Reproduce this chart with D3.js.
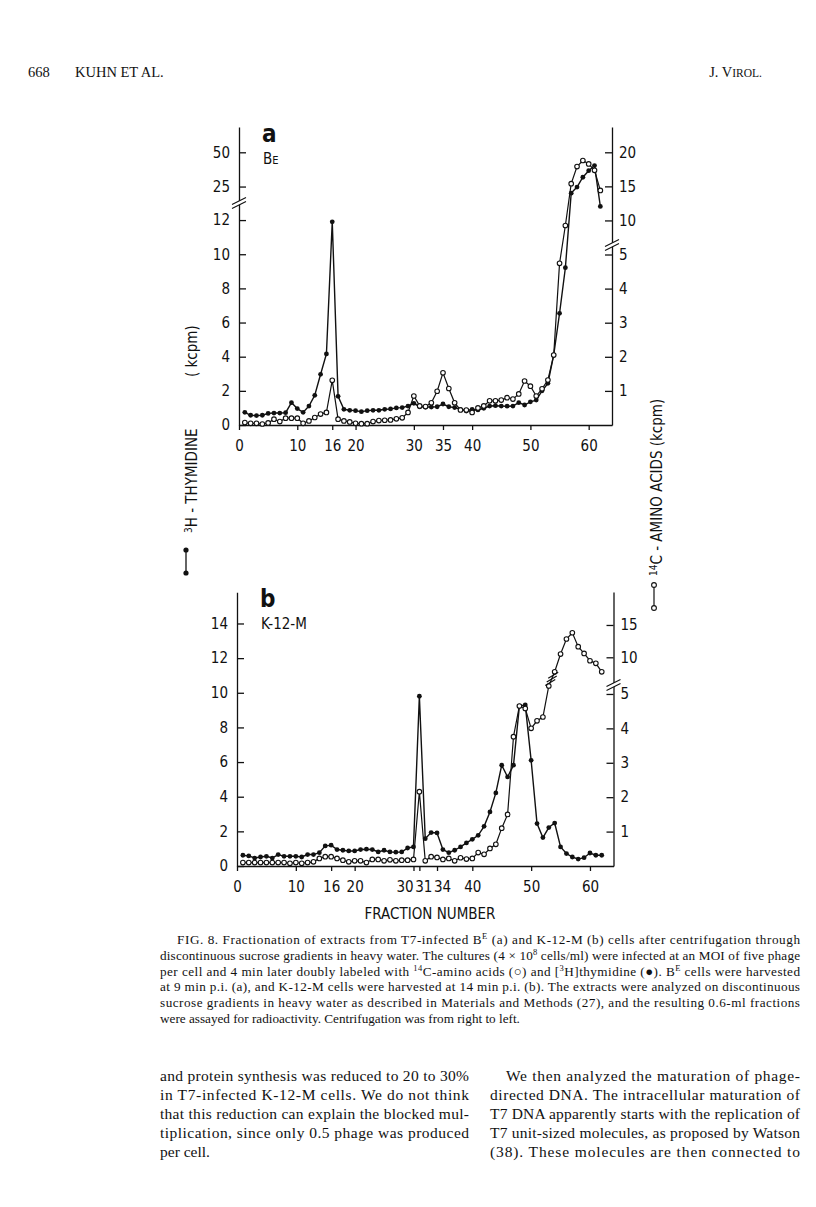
<!DOCTYPE html>
<html><head><meta charset="utf-8">
<script src="https://cdn.jsdelivr.net/npm/d3@7"></script>
<style>
body{margin:0;background:#fff}
svg{display:block}
.ax{font-family:"DejaVu Sans Condensed","DejaVu Sans",sans-serif;font-stretch:condensed;font-size:15px;color:#111}
.ax path,.ax line{stroke-width:1.3}
.lab{font-family:"DejaVu Sans Condensed","DejaVu Sans",sans-serif;font-stretch:condensed;fill:#111}
.serif{font-family:"Liberation Serif","Times New Roman",serif;fill:#111}
</style></head><body>
<svg id="c" width="816" height="1207" viewBox="0 0 816 1207"></svg>
<script>
// ---------- data ----------
const fractions = [1,2,3,4,5,6,7,8,9,10,11,12,13,14,15,16,17,18,19,20,21,22,23,24,25,26,27,28,29,30,31,32,33,34,35,36,37,38,39,40,41,42,43,44,45,46,47,48,49,50,51,52,53,54,55,56,57,58,59,60,61,62];
// panel a (B^E): 3H-thymidine (filled, left axis, kcpm), 14C-amino acids (open, right axis, kcpm)
const thymidineA = [0.74,0.57,0.55,0.57,0.68,0.70,0.70,0.72,1.31,0.96, 0.74,1.11,1.74,2.97,4.16,11.9,1.68,0.92,0.86,0.84, 0.78,0.84,0.86,0.86,0.92,0.94,1.00,1.02,1.11,1.27, 1.07,1.05,1.05,1.07,1.23,1.07,1.02,0.92,0.82,0.92, 0.88,0.98,1.11,1.13,1.11,1.10,1.11,1.31,1.17,1.36, 1.46,2.00,2.44,4.10,6.54,9.21,20.2,24.6,31.8,36.6, 40.3,12.8];
const aminoA = [0.07,0.05,0.05,0.03,0.06,0.17,0.10,0.20,0.20,0.20, 0.05,0.12,0.22,0.32,0.37,1.31,0.17,0.12,0.09,0.05, 0.04,0.04,0.10,0.13,0.14,0.15,0.18,0.21,0.37,0.85, 0.56,0.54,0.65,0.99,1.53,1.07,0.65,0.44,0.44,0.37, 0.50,0.56,0.71,0.71,0.73,0.80,0.76,0.91,1.29,1.14, 0.85,1.06,1.32,2.05,4.74,9.26,15.4,17.9,18.8,18.3, 17.35,14.4];
// panel b (K-12-M)
const thymidineB = [0.62,0.58,0.46,0.52,0.56,0.46,0.66,0.56,0.56,0.56, 0.52,0.66,0.66,0.77,1.16,1.20,0.95,0.91,0.87,0.87, 0.95,0.97,0.95,0.81,0.91,0.81,0.80,0.81,1.04,1.10, 9.80,1.58,1.93,1.91,0.95,0.77,0.91,1.10,1.33,1.54, 1.77,2.29,3.12,4.22,5.82,5.14,5.82,9.23,9.30,6.10, 2.45,1.64,2.22,2.48,1.10,0.72,0.52,0.40,0.48,0.75, 0.62,0.62];
const aminoB = [0.10,0.10,0.10,0.10,0.10,0.10,0.10,0.10,0.08,0.10, 0.08,0.10,0.12,0.22,0.27,0.27,0.22,0.17,0.12,0.15, 0.15,0.10,0.19,0.19,0.15,0.18,0.15,0.17,0.17,0.19, 2.16,0.15,0.27,0.25,0.19,0.22,0.15,0.24,0.20,0.22, 0.39,0.34,0.51,0.63,1.10,1.50,3.76,4.65,4.58,4.00, 4.22,4.33,5.58,7.77,10.5,12.83,13.8,11.64,10.6,9.47, 9.07,7.77];
// tick labels
const xTicksA = [0,10,16,20,30,35,40,50,60];
const leftTicksA = [0,2,4,6,8,10,12,25,50];
const rightTicksA = [1,2,3,4,5,10,15,20];
const xTicksB = [0,10,16,20,30,31,34,40,50,60];
const leftTicksB = [0,2,4,6,8,10,12,14];
const rightTicksB = [1,2,3,4,5,10,15];

const svg = d3.select('#c');

function breakMark(g, cx, cy){
  g.append('polygon').attr('points',`${cx-6},${cy+1} ${cx+6},${cy-5} ${cx+6},${cy-1} ${cx-6},${cy+5}`).attr('fill','#fff');
  g.append('line').attr('x1',cx-7).attr('y1',cy+1.5).attr('x2',cx+7).attr('y2',cy-5.5).attr('stroke','#111').attr('stroke-width',1.2);
  g.append('line').attr('x1',cx-7).attr('y1',cy+5.5).attr('x2',cx+7).attr('y2',cy-1.5).attr('stroke','#111').attr('stroke-width',1.2);
}

function panel(cfg){
  const g = svg.append('g');
  const x = d3.scaleLinear().domain([0,64]).range(cfg.xr);
  const yL = d3.scaleLinear().domain(cfg.yLd).range(cfg.yLr);
  const yR = d3.scaleLinear().domain(cfg.yRd).range(cfg.yRr);
  const base = cfg.yLr[0];
  g.append('g').attr('class','ax').attr('transform',`translate(${cfg.xr[0]},0)`)
    .call(d3.axisLeft(yL).tickValues(cfg.tL).tickSize(-7).tickSizeOuter(0).tickPadding(9));
  g.append('g').attr('class','ax').attr('transform',`translate(${cfg.xr[1]},0)`)
    .call(d3.axisRight(yR).tickValues(cfg.tR).tickSize(-7).tickSizeOuter(0).tickPadding(7));
  const xa = g.append('g').attr('class','ax').attr('transform',`translate(0,${base})`)
    .call(d3.axisBottom(x).tickValues(cfg.tX).tickSize(5).tickSizeOuter(0).tickPadding(10));
  if (cfg.labelShift) xa.selectAll('.tick text').attr('dx', d => cfg.labelShift[d] || 0);
  (cfg.breaks||[]).forEach(b => breakMark(g, b[0], b[1]));

  const open = fractions.map((f,i)=>({f, v: cfg.amino[i]}));
  const fill = fractions.map((f,i)=>({f, v: cfg.thym[i]}));
  g.append('path').datum(open).attr('fill','none').attr('stroke','#111').attr('stroke-width',1.2)
    .attr('d', d3.line().x(d=>x(d.f)).y(d=>yR(d.v)));
  g.append('path').datum(fill).attr('fill','none').attr('stroke','#111').attr('stroke-width',1.4)
    .attr('d', d3.line().x(d=>x(d.f)).y(d=>yL(d.v)));
  g.append('g').selectAll('circle').data(fill).join('circle')
    .attr('cx',d=>x(d.f)).attr('cy',d=>yL(d.v)).attr('r',2.4).attr('fill','#111');
  g.append('g').selectAll('circle').data(open).join('circle')
    .attr('cx',d=>x(d.f)).attr('cy',d=>yR(d.v)).attr('r',2.3).attr('fill','#fff').attr('stroke','#111').attr('stroke-width',1.1);
  if (cfg.curveBreak){
    const [f0,f1] = cfg.curveBreak;
    const i0 = fractions.indexOf(f0), i1 = fractions.indexOf(f1);
    const x0 = x(f0), y0 = yR(cfg.amino[i0]), x1 = x(f1), y1 = yR(cfg.amino[i1]);
    [0.25,0.5,0.75].forEach(t=>{
      const cx = x0+(x1-x0)*t, cy = y0+(y1-y0)*t;
      g.append('line').attr('x1',cx-5).attr('y1',cy+3).attr('x2',cx+5).attr('y2',cy-3)
        .attr('stroke','#111').attr('stroke-width',1.2);
    });
  }
  // panel letter + strain
  g.append('text').attr('class','lab').attr('x',cfg.xr[0]+23).attr('y',cfg.letterY)
    .attr('font-family','Liberation Sans, Arial, sans-serif').attr('font-weight','bold').attr('font-size',24).text(cfg.letter);
  const st = g.append('text').attr('class','lab').attr('x',cfg.xr[0]+24).attr('y',cfg.letterY+22).attr('font-size',15);
  cfg.strain.forEach(s => st.append('tspan').attr('font-size',s[1]).text(s[0]));
  return {x,yL,yR};
}

panel({xr:[239,612], yLd:[0,13,50,68.5], yLr:[425,203,152.3,127], yRd:[0,5,20,23.7], yRr:[425,254.5,152.3,127],
  tL:leftTicksA, tR:rightTicksA, tX:xTicksA, thym:thymidineA, amino:aminoA,
  breaks:[[239,203],[612,245]], letter:'a', letterY:142, strain:[['B',15],['E',11]]});

panel({xr:[237,613.5], yLd:[0,15.8], yLr:[866,592.3], yRd:[0,5.15,10,20.1], yRr:[866,688.8,657.3,592],
  tL:leftTicksB, tR:rightTicksB, tX:xTicksB, thym:thymidineB, amino:aminoB,
  breaks:[[613.5,685]], labelShift:{30:-9,31:4,34:5}, curveBreak:[53,54],
  letter:'b', letterY:607, strain:[['K-12-M',15]]});

// ---------- axis titles ----------
{
  const g = svg.append('g').attr('transform','translate(186,575) rotate(-90)');
  g.append('line').attr('x1',2).attr('y1',0).attr('x2',25).attr('y2',0).attr('stroke','#111').attr('stroke-width',1.3);
  g.append('circle').attr('cx',2).attr('cy',0).attr('r',2.6).attr('fill','#111');
  g.append('circle').attr('cx',25).attr('cy',0).attr('r',2.6).attr('fill','#111');
  const t = g.append('text').attr('class','lab').attr('y',11).attr('font-size',15);
  t.append('tspan').attr('x',42).attr('font-size',10).attr('baseline-shift','super').text('3');
  t.append('tspan').text('H - THYMIDINE');
  t.append('tspan').attr('x',198).text('( kcpm)');
}
{
  const g = svg.append('g').attr('transform','translate(654,612) rotate(-90)');
  g.append('line').attr('x1',4).attr('y1',0).attr('x2',27).attr('y2',0).attr('stroke','#111').attr('stroke-width',1.2);
  g.append('circle').attr('cx',4).attr('cy',0).attr('r',2.4).attr('fill','#fff').attr('stroke','#111').attr('stroke-width',1.1);
  g.append('circle').attr('cx',27).attr('cy',0).attr('r',2.4).attr('fill','#fff').attr('stroke','#111').attr('stroke-width',1.1);
  const t = g.append('text').attr('class','lab').attr('y',8).attr('font-size',15);
  t.append('tspan').attr('x',36).attr('font-size',10).attr('baseline-shift','super').text('14');
  t.append('tspan').text('C - AMINO  ACIDS  (kcpm)');
}
svg.append('text').attr('class','lab').attr('x',430).attr('y',919).attr('text-anchor','middle').attr('font-size',15).text('FRACTION  NUMBER');

// ---------- header ----------
svg.append('text').attr('class','serif').attr('x',28).attr('y',77).attr('font-size',14.5).text('668');
svg.append('text').attr('class','serif').attr('x',75).attr('y',77).attr('font-size',14.5).text('KUHN ET AL.');
{
  const t = svg.append('text').attr('class','serif').attr('x',762).attr('y',77).attr('text-anchor','end').attr('font-size',14.5);
  t.append('tspan').text('J. V'); t.append('tspan').attr('font-size',11.5).text('IROL.');
}

// ---------- caption ----------
const caption = [
  {x:177, w:623, parts:[['FIG. 8. Fractionation of extracts from T7-infected B'],['E','sup'],[' (a) and K-12-M (b) cells after centrifugation through']]},
  {x:160, w:640, parts:[['discontinuous sucrose gradients in heavy water. The cultures (4 × 10'],['8','sup'],[' cells/ml) were infected at an MOI of five phage']]},
  {x:160, w:640, parts:[['per cell and 4 min later doubly labeled with '],['14','sup'],['C-amino acids (○) and ['],['3','sup'],['H]thymidine (●). B'],['E','sup'],[' cells were harvested']]},
  {x:160, w:640, parts:[['at 9 min p.i. (a), and K-12-M cells were harvested at 14 min p.i. (b). The extracts were analyzed on discontinuous']]},
  {x:160, w:640, parts:[['sucrose gradients in heavy water as described in Materials and Methods (27), and the resulting 0.6-ml fractions']]},
  {x:160, w:null, parts:[['were assayed for radioactivity. Centrifugation was from right to left.']]}
];
caption.forEach((ln,i)=>{
  const t = svg.append('text').attr('class','serif').attr('x',ln.x).attr('y',944+i*15.8).attr('font-size',13.2);
  if (ln.w) t.attr('textLength',ln.w).attr('lengthAdjust','spacing');
  ln.parts.forEach(p=>{
    const s = t.append('tspan').text(p[0]);
    if (p[1]==='sup') s.attr('font-size',8.5).attr('baseline-shift','super');
  });
});

// ---------- body text ----------
const leftCol = ['and protein synthesis was reduced to 20 to 30%','in T7-infected K-12-M cells. We do not think','that this reduction can explain the blocked mul-','tiplication, since only 0.5 phage was produced','per cell.'];
const rightCol = ['We then analyzed the maturation of phage-','directed DNA. The intracellular maturation of','T7 DNA apparently starts with the replication of','T7 unit-sized molecules, as proposed by Watson','(38). These molecules are then connected to'];
leftCol.forEach((s,i)=>{
  const t = svg.append('text').attr('class','serif').attr('x',160).attr('y',1081+i*19).attr('font-size',15.5).text(s);
  if (i<4) t.attr('textLength',309).attr('lengthAdjust','spacing');
});
rightCol.forEach((s,i)=>{
  const x0 = i===0 ? 506 : 490;
  svg.append('text').attr('class','serif').attr('x',x0).attr('y',1081+i*19).attr('font-size',15.5).text(s)
    .attr('textLength',800-x0).attr('lengthAdjust','spacing');
});
</script></body></html>
